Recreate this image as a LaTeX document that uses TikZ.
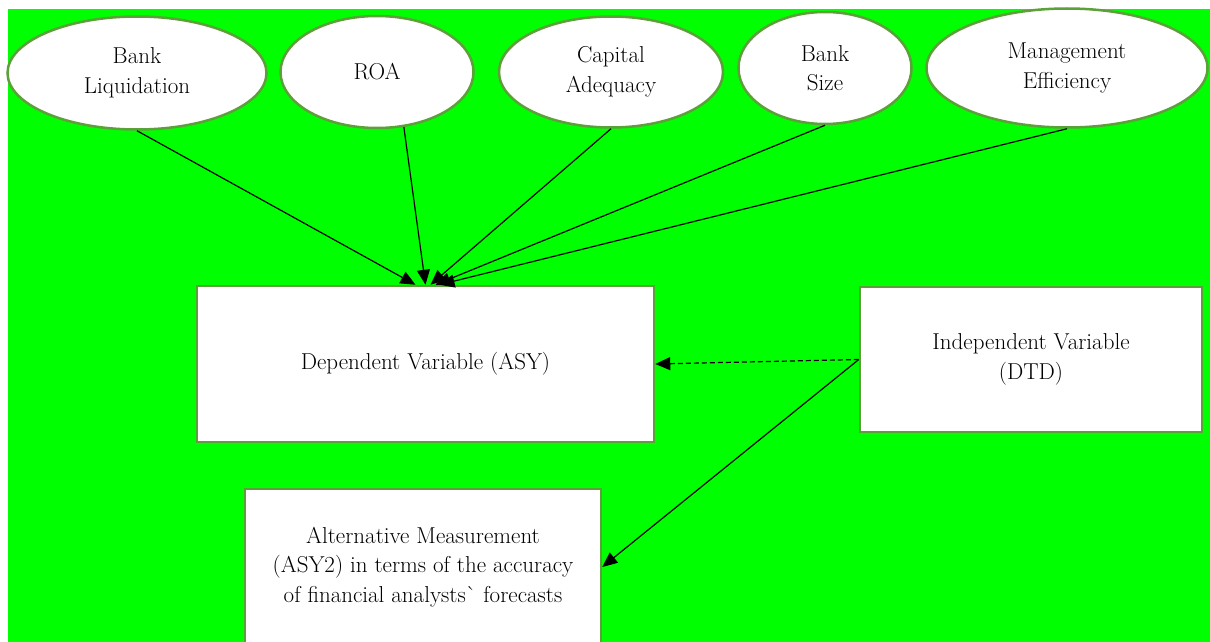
\documentclass[tikz,border=0pt]{standalone}
\usetikzlibrary{shapes.geometric,arrows.meta}
\definecolor{bggreen}{RGB}{0,255,0}
\definecolor{edgegreen}{RGB}{92,160,58}
\tikzset{
    factor/.style={ellipse, draw=edgegreen, line width=2.5pt, fill=white, inner sep=0pt,
        align=center, font=\fontsize{23}{29.5}\selectfont},
    varbox/.style={rectangle, draw=edgegreen, line width=2.5pt, fill=white, inner sep=0pt,
        align=center, font=\fontsize{23}{29.5}\selectfont},
    link/.style={-{Triangle[length=15pt,width=13pt]}, line width=1.2pt},
}
\begin{document}
\begin{tikzpicture}[x=1pt, y=-1pt]
    \useasboundingbox (0, 0) rectangle (1210, 642);
    \clip (0, 0) rectangle (1210, 642);
    \fill[bggreen] (8, 9) rectangle (1210, 642);
    % the five factors
    \node[factor, minimum width=259pt, minimum height=113pt] (liq) at (137, 73) {Bank\\Liquidation};
    \node[factor, minimum width=193pt, minimum height=112pt] (roa) at (377, 72) {ROA};
    \node[factor, minimum width=224pt, minimum height=111pt] (cap) at (611, 72) {Capital\\Adequacy};
    \node[factor, minimum width=173pt, minimum height=112pt] (size) at (825, 68) {Bank\\Size};
    \node[factor, minimum width=281pt, minimum height=119pt] (mgmt) at (1067, 68) {Management\\Efficiency};
    % variables
    \node[varbox, minimum width=457pt, minimum height=156pt] (dep) at (425.5, 364) {Dependent Variable (ASY)};
    \node[varbox, minimum width=342pt, minimum height=145pt] (ind) at (1031, 359.5) {Independent Variable\\(DTD)};
    \node[varbox, minimum width=356pt, minimum height=156pt] (alt) at (423, 567) {Alternative Measurement\\(ASY2) in terms of the accuracy\\of financial analysts\textasciigrave{} forecasts};
    % links
    \draw[link] (liq.south) -- ([xshift=-10pt]dep.north);
    \draw[link] (roa.-64) -- (dep.north);
    \draw[link] (cap.south) -- ([xshift=5pt]dep.north);
    \draw[link] (size.south) -- ([xshift=10pt]dep.north);
    \draw[link] (mgmt.south) -- ([xshift=14pt]dep.north);
    \draw[link, dash pattern=on 5pt off 3pt] (ind.west) -- (dep.east);
    \draw[link] (ind.west) -- (alt.east);
\end{tikzpicture}
\end{document}
